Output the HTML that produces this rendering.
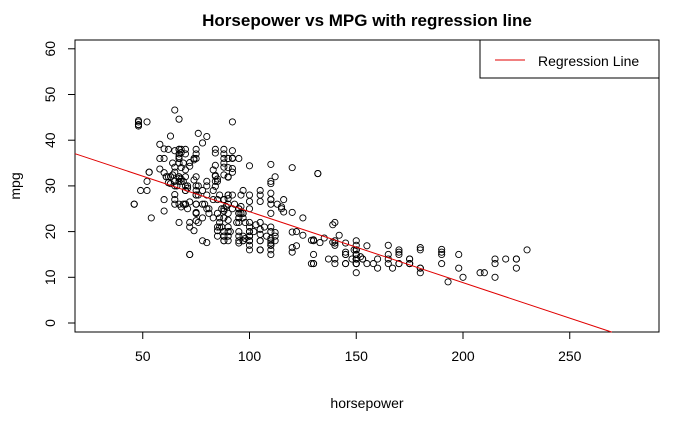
<!DOCTYPE html>
<html><head><meta charset="utf-8"><style>
html,body{margin:0;padding:0;background:#fff;}
svg{display:block;font-family:"Liberation Sans",Arial,sans-serif;}
</style></head><body>
<svg id="chart" width="700" height="432">
<text x="367" y="26" text-anchor="middle" font-size="17" font-weight="bold">Horsepower vs MPG with regression line</text>
<rect x="75" y="40" width="584" height="292" fill="none" stroke="#000"/>
<g id="xaxis"></g>
<g id="yaxis"></g>
<text x="367" y="408" text-anchor="middle" font-size="14">horsepower</text>
<text transform="translate(20,186) rotate(-90)" text-anchor="middle" font-size="14">mpg</text>
<g id="points"></g>
<g id="reg"></g>
<g>
<rect x="480" y="40" width="179" height="38" fill="#fff" stroke="#000"/>
<line x1="495" y1="60" x2="525" y2="60" stroke="#e00000"/>
<text x="538" y="66" font-size="14">Regression Line</text>
</g>
</svg>
<script>
const xTicks=[50,100,150,200,250];
const yTicks=[0,10,20,30,40,50,60];
const hp=[130,165,150,150,140,198,220,215,225,190,170,160,150,225,95,95,97,85,88,46,87,90,95,113,90,215,200,210,193,88,90,95,100,105,100,88,100,165,175,153,150,180,170,175,110,72,100,88,86,90,70,76,65,69,60,70,95,80,54,90,86,165,175,150,153,150,208,155,160,190,97,150,130,140,150,112,76,87,69,86,92,97,80,88,175,150,145,137,150,198,150,158,150,215,225,175,105,100,100,88,95,46,150,167,170,180,100,88,72,94,90,85,107,90,145,230,49,75,91,112,150,110,122,180,95,100,100,67,80,65,75,100,110,105,140,150,150,140,150,83,67,78,52,61,75,75,75,97,93,67,95,105,72,72,170,145,150,148,110,105,110,95,110,110,129,75,83,100,78,96,71,97,97,70,90,95,88,98,115,53,86,81,92,79,83,140,150,120,152,100,105,81,90,52,60,70,53,100,78,110,95,71,70,75,72,102,150,88,108,120,180,145,130,150,68,80,58,96,70,145,110,145,130,110,105,100,98,180,170,190,149,78,88,75,89,63,83,66,110,140,139,103,48,48,48,52,65,67,58,60,62,65,67,68,70,75,78,84,88,90,92,76,80,63,67,74,88,72,65,65,61,60,64,69,71,90,84,85,92,88,90,105,100,110,74,125,115,120,132,110,116,110,90,133,125,155,135,165,120,142,190,122,129,112,85,130,105,139,68,95,97,75,90,92,75,65,105,65,48,48,67,67,67,67,62,132,100,88,72,84,84,92,110,84,58,64,60,67,65,62,68,75,75,100,74,80,76,116,120,110,105,88,85,88,88,88,85,84,90,92,74,68,68,63,70,88,75,70,67,67,67,110,85,92,112,96,84,90,86,52,84,79,82];
const mpg=[18,15,18,16,17,15,14,14,14,15,15,14,15,14,24,22,18,21,27,26,25,24,25,26,21,10,10,11,9,27,28,25,19,16,17,19,18,14,14,14,14,12,13,13,18,22,19,18,23,28,30,30,31,35,27,26,24,25,23,20,21,13,14,15,14,17,11,13,12,13,19,15,13,13,14,18,22,21,26,22,28,23,28,27,13,14,13,14,15,12,13,13,14,13,12,13,18,16,18,18,23,26,11,12,13,12,18,20,21,22,18,19,21,26,15,16,29,24,20,19,15,24,20,11,20,21,19,32,31,26,32,25,16,16,18,16,13,14,14,29,26,26,31,32,28,24,26,24,26,31,19,18,15,15,16,15,16,14,17,16,15,18,21,20,13,29,23,20,23,24,25,24,18,29,19,23,23,22,25,33,28,25,25,26,27,17.5,16,15.5,14.5,22,22,24,22.5,29,24.5,29,33,20,18,18.5,17.5,29.5,32,28,26.5,20,13,19,19,16.5,16.5,13,13,13,31.5,30,36,25.5,33.5,17.5,17,15.5,15,17.5,20.5,19,18.5,16,15.5,15.5,16,29,24.5,26,25.5,30.5,33.5,30,30.5,22,21.5,21.5,43.1,44.3,43.4,44,46.6,44.6,39.1,38.1,38,37.7,38,37.3,37,36,39.4,37.2,34.1,36,36.1,41.5,40.8,40.9,36.4,35.7,38,35.1,34.1,33,32,36,35,31,30,32,32.3,31.5,33.8,32.4,31.9,26.6,28,27,31.3,23,25.4,24.2,32.7,28.4,24.3,26,27.2,17.6,19.2,16.9,18.6,17,19.9,19.2,16.1,16.9,18.1,19.8,20.2,18.2,19.4,17.7,31,36,29,30,34,33,37,27,28,30,43.4,44,35,36,38,37,32,32.7,34.4,35,34.3,29.9,32.1,37.7,34.7,34.5,33.7,32.4,32.9,31.6,28.1,30.7,25.4,24.2,22.4,26.6,20.2,17.6,28,27,34,31,29,27,24,23,36,37,31,38,36,36,36,34,38,32,38,25,38,26,22,32,36,27,27,44,32,28,31];
const X=v=>36+v*2.135, Y=v=>323-v*4.57;
const NS="http://www.w3.org/2000/svg";
function mk(t,a,p){const e=document.createElementNS(NS,t);for(const k in a)e.setAttribute(k,a[k]);p.appendChild(e);return e;}
const xa=document.getElementById('xaxis');
mk('line',{x1:X(50),x2:X(250),y1:332,y2:332,stroke:'#000'},xa);
xTicks.forEach(t=>{mk('line',{x1:X(t),x2:X(t),y1:332,y2:339,stroke:'#000'},xa);
const tx=mk('text',{x:X(t),y:361,'text-anchor':'middle','font-size':14},xa);tx.textContent=t;

});
const ya=document.getElementById('yaxis');
mk('line',{x1:75,x2:75,y1:Y(0),y2:Y(60),stroke:'#000'},ya);
yTicks.forEach(t=>{mk('line',{x1:68,x2:75,y1:Y(t),y2:Y(t),stroke:'#000'},ya);
const tx=mk('text',{transform:`translate(55,${Y(t)}) rotate(-90)`,'text-anchor':'middle','font-size':14},ya);tx.textContent=t;

});
const pg=document.getElementById('points');
for(let i=0;i<Math.min(hp.length,mpg.length);i++){
const c=mk('circle',{cx:X(hp[i]),cy:Y(mpg[i]),r:3.1,fill:'none',stroke:'#000','stroke-width':0.9},pg);

}
const b0=39.89,b1=-0.1553;
const x0=(75-36)/2.135, x1=(b0+2)/-b1;
const l=mk('line',{x1:X(x0),y1:Y(b0+b1*x0),x2:X(x1),y2:Y(b0+b1*x1),stroke:'#e00000'},document.getElementById('reg'));


</script>
</body></html>
